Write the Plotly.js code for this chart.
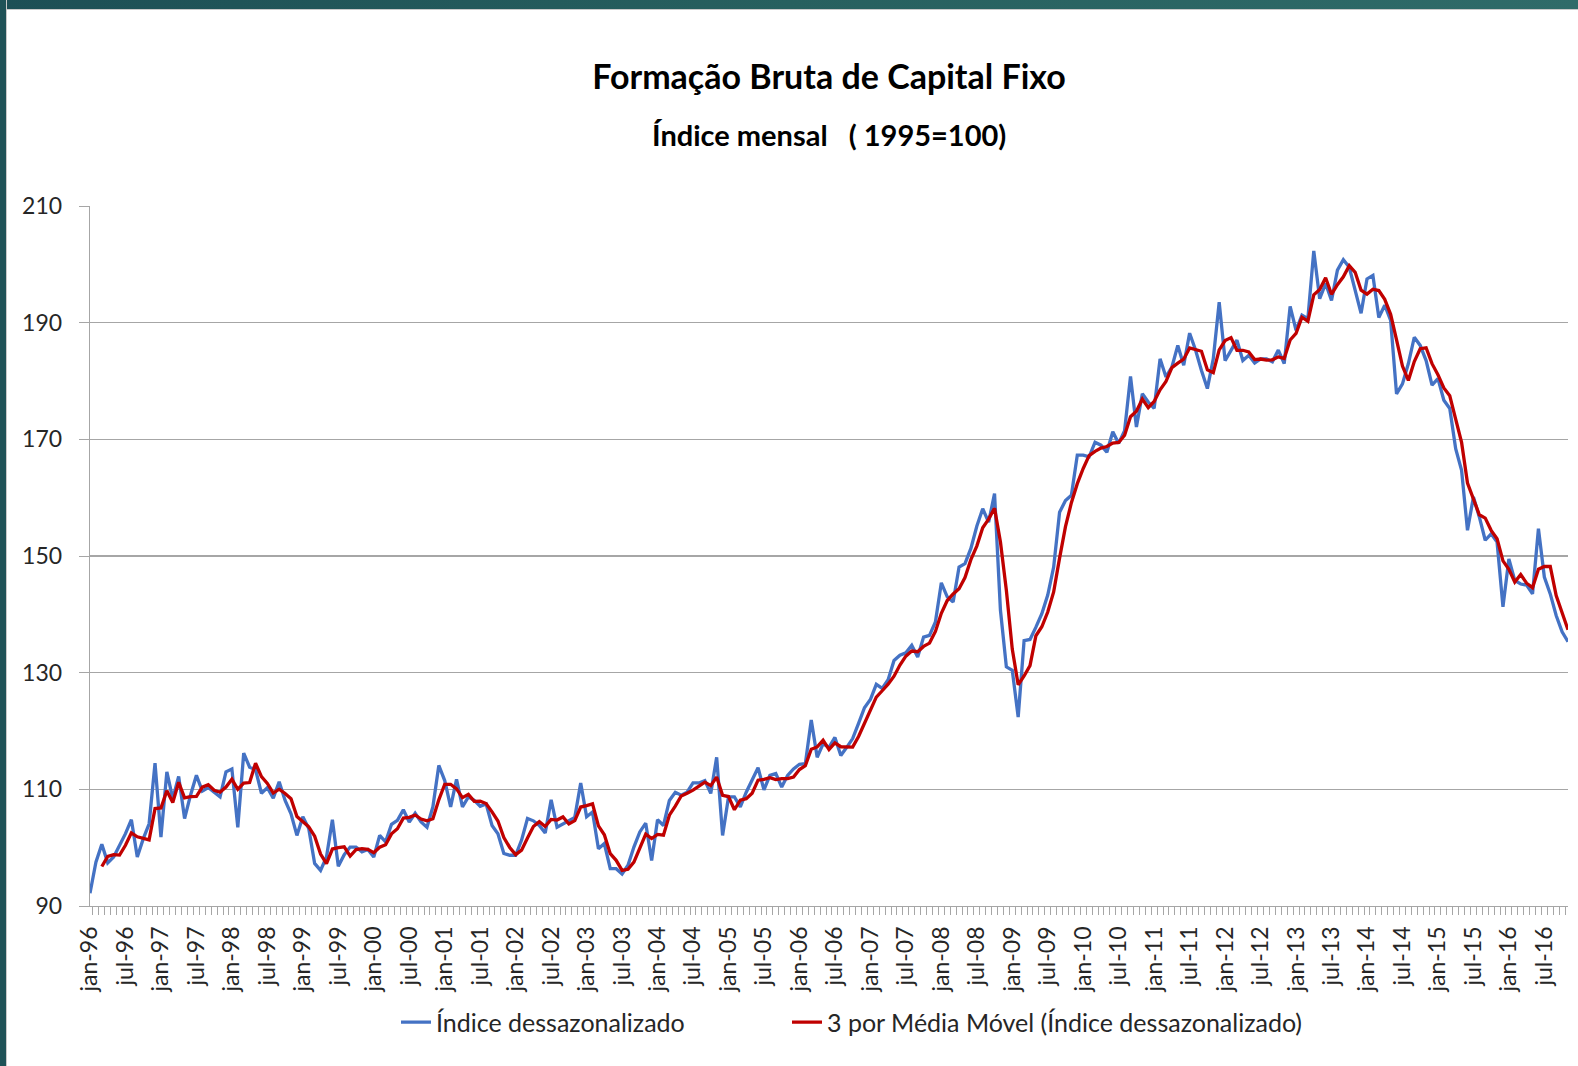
<!DOCTYPE html>
<html>
<head>
<meta charset="utf-8">
<script src="https://cdn.plot.ly/plotly-3.0.1.min.js"></script>
<style>
  html, body { margin: 0; padding: 0; background: #ffffff; }
  #wrap { position: relative; width: 1578px; height: 1066px; overflow: hidden; }
  #chart { position: absolute; left: 0; top: 0; width: 1578px; height: 1066px; }
  #topband { position: absolute; left: 0; top: 0; width: 1578px; height: 9px;
    background: linear-gradient(90deg, #1d4f55 0%, #27605f 50%, #2f6b69 100%);
    border-bottom: 1px solid #c9c9c9; }
  #leftband { position: absolute; left: 0; top: 0; width: 6px; height: 1066px;
    background: #1f5257; border-right: 1px solid #c9c9c9; }
</style>
</head>
<body>
<div id="wrap">
  <div id="chart"></div>
  <div id="topband"></div>
  <div id="leftband"></div>
</div>
<script>
// Month names (Portuguese) and years for the category axis
const monthNames = ['jan','fev','mar','abr','mai','jun','jul','ago','set','out','nov','dez'];
const years = ['96','97','98','99','00','01','02','03','04','05','06','07','08','09','10','11','12','13','14','15','16'];

// Índice dessazonalizado, monthly, jan-96 .. nov-16
const indice1996 = [92.2, 97.5, 100.6, 97.4, 98.4, 100.4, 102.4, 104.8, 98.4, 101.5, 104.1, 114.5];
const indice1997 = [101.8, 113.0, 108.4, 112.2, 105.0, 109.0, 112.4, 109.7, 110.3, 109.5, 108.7, 113.0];
const indice1998 = [113.5, 103.5, 116.2, 113.8, 113.4, 109.3, 110.3, 108.5, 111.3, 108.1, 105.8, 102.1];
const indice1999 = [105.3, 103.3, 97.3, 96.1, 98.4, 104.8, 96.8, 98.8, 100.1, 100.1, 99.3, 99.7];
const indice2000 = [98.4, 102.1, 101.0, 104.0, 104.7, 106.5, 104.4, 105.9, 104.4, 103.5, 107.0, 114.1];
const indice2001 = [111.5, 107.0, 111.7, 107.0, 108.7, 108.1, 107.1, 107.5, 103.8, 102.4, 99.0, 98.7];
const indice2002 = [98.7, 101.3, 105.0, 104.6, 103.8, 102.5, 108.2, 103.5, 104.1, 104.6, 105.2, 111.1];
const indice2003 = [105.3, 106.1, 99.8, 100.7, 96.4, 96.4, 95.5, 97.0, 100.1, 102.7, 104.2, 97.8];
const indice2004 = [104.8, 103.8, 108.1, 109.5, 109.0, 109.5, 111.1, 111.1, 111.5, 109.3, 115.5, 102.1];
const indice2005 = [108.7, 108.7, 107.0, 109.5, 111.5, 113.7, 109.9, 112.4, 112.7, 110.4, 112.4, 113.5];
const indice2006 = [114.3, 114.4, 121.9, 115.5, 117.8, 117.2, 118.9, 115.8, 117.2, 118.7, 121.3, 124.0];
const indice2007 = [125.4, 128.0, 127.3, 128.8, 132.1, 133.0, 133.4, 134.7, 132.7, 136.1, 136.4, 138.7];
const indice2008 = [145.4, 143.0, 142.1, 148.1, 148.7, 151.3, 155.1, 158.1, 155.8, 160.7, 140.7, 131.0];
const indice2009 = [130.4, 122.4, 135.5, 135.7, 137.8, 140.1, 143.3, 148.1, 157.5, 159.5, 160.4, 167.3];
const indice2010 = [167.3, 167.0, 169.5, 169.0, 167.8, 171.3, 169.3, 171.5, 180.8, 172.1, 177.8, 176.4];
const indice2011 = [175.3, 183.8, 180.7, 182.4, 186.1, 182.7, 188.2, 185.3, 181.8, 178.7, 183.8, 193.5];
const indice2012 = [183.5, 185.3, 187.0, 183.5, 184.4, 183.1, 183.8, 183.8, 183.3, 185.3, 183.0, 192.8];
const indice2013 = [188.7, 191.3, 190.7, 202.3, 194.1, 196.7, 193.8, 199.0, 200.8, 199.5, 195.6, 191.6];
const indice2014 = [197.5, 198.1, 190.9, 193.0, 190.4, 177.8, 179.5, 183.0, 187.5, 186.1, 183.5, 179.3];
const indice2015 = [180.4, 176.7, 175.3, 168.4, 164.7, 154.4, 160.1, 156.7, 152.7, 153.8, 152.4, 141.3];
const indice2016 = [149.5, 145.8, 145.2, 145.0, 143.5, 154.7, 146.4, 143.5, 139.8, 137.0, 135.3];

const indice = [].concat(indice1996, indice1997, indice1998, indice1999, indice2000, indice2001,
  indice2002, indice2003, indice2004, indice2005, indice2006, indice2007, indice2008, indice2009,
  indice2010, indice2011, indice2012, indice2013, indice2014, indice2015, indice2016);

// Category labels "jan-96" ... one per data point
const categories = [];
years.forEach(y => monthNames.forEach(m => categories.push(m + '-' + y)));
categories.length = indice.length;

// Tick labels shown: every January and July
const tickText = categories.map(c => (c.startsWith('jan-') || c.startsWith('jul-')) ? c : '');

// 3-period moving average trendline (as the chart's legend states)
const mediaMovel = indice.map((v, i) => i < 2 ? null : (indice[i] + indice[i-1] + indice[i-2]) / 3);

const FONT = 'Lato, "Open Sans", sans-serif';
const GRID = '#a6a6a6';
const TXT = '#262626';

const traces = [
  { x: categories, y: indice, type: 'scatter', mode: 'lines',
    name: 'Índice dessazonalizado', legend: 'legend',
    line: { color: '#4472C4', width: 3.3 } },
  { x: categories, y: mediaMovel, type: 'scatter', mode: 'lines',
    name: '3 por Média Móvel (Índice dessazonalizado)', legend: 'legend2',
    line: { color: '#C00000', width: 3.3 } }
];

const legendBase = {
  orientation: 'h', xanchor: 'left', y: (905.7 - 1022) / 700, yanchor: 'middle',
  font: { family: FONT, size: 25, color: TXT },
  bgcolor: 'rgba(0,0,0,0)', borderwidth: 0
};

const layout = {
  width: 1578, height: 1066,
  paper_bgcolor: '#ffffff', plot_bgcolor: '#ffffff',
  margin: { l: 90, r: 10, t: 206, b: 160, pad: 0 },
  font: { family: FONT, color: TXT, size: 22 },
  title: { text: '<b>Formação Bruta de Capital Fixo</b>', font: { family: FONT, size: 34, color: '#000000' },
           xref: 'paper', x: 0.5, xanchor: 'center', yref: 'container', y: 1 - 77/1066, yanchor: 'middle' },
  annotations: [
    { text: '<b>Índice mensal   ( 1995=100)</b>', xref: 'paper', yref: 'paper', x: 0.5, y: (905.7-134)/700,
      xanchor: 'center', yanchor: 'middle', showarrow: false, font: { family: FONT, size: 29, color: '#000000' } }
  ],
  xaxis: {
    type: 'category', categoryorder: 'array', categoryarray: categories,
    tickmode: 'array', tickvals: categories, ticktext: tickText,
    tickson: 'boundaries', ticks: 'outside', ticklen: 8, tickwidth: 1, tickcolor: GRID,
    tickangle: -90, tickfont: { family: FONT, size: 23, color: TXT }, ticklabelstandoff: 10,
    showline: true, linecolor: GRID, linewidth: 1.3, showgrid: false, zeroline: false,
    automargin: false, fixedrange: true
  },
  yaxis: {
    range: [90, 210], tickmode: 'array', tickvals: [90, 110, 130, 150, 170, 190, 210],
    ticks: 'outside', ticklen: 10, tickwidth: 1, tickcolor: GRID,
    tickfont: { family: FONT, size: 23, color: TXT }, ticklabelstandoff: 12,
    showline: true, linecolor: GRID, linewidth: 1.3, showgrid: true, gridcolor: GRID, gridwidth: 1.3,
    zeroline: false, automargin: false, fixedrange: true
  },
  showlegend: true,
  legend: Object.assign({}, legendBase, { x: (396 - 90) / 1478 }),
  legend2: Object.assign({}, legendBase, { x: (787 - 90) / 1478 })
};

Plotly.newPlot('chart', traces, layout, { displayModeBar: false, staticPlot: true });
</script>
</body>
</html>
